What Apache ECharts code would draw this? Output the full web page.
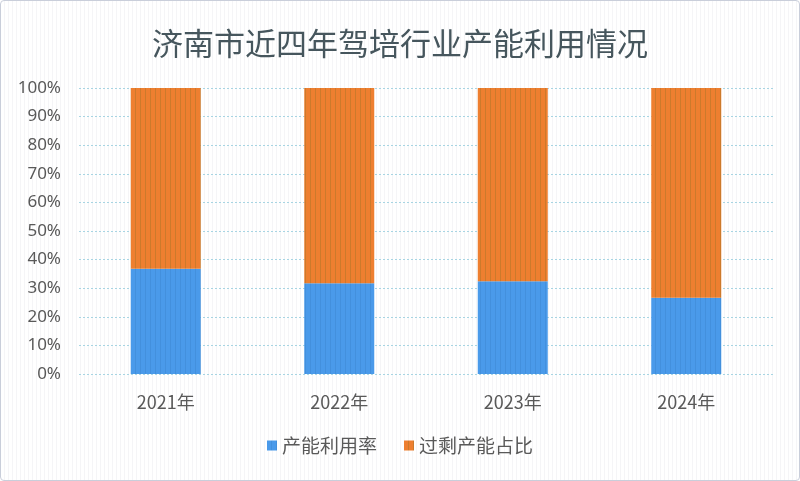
<!DOCTYPE html>
<html>
<head>
<meta charset="utf-8">
<script src="https://cdn.jsdelivr.net/npm/echarts@6/dist/echarts.min.js"></script>
<style>
    html, body { margin: 0; padding: 0; }
    #main {
        width: 800px; height: 481px; box-sizing: border-box;
        border: 1px solid #c9ceda; border-radius: 4px;
        background: repeating-linear-gradient(90deg, #ffffff 0px, #ffffff 3px, #f5f5f7 3px, #f5f5f7 4px);
    }
</style>
</head>
<body>
<div id="main"></div>
<script>
    var years = ['2021年', '2022年', '2023年', '2024年'];
    var usedRate = [36.8, 31.7, 32.4, 26.7];
    var idleRate = [63.2, 68.3, 67.6, 73.3];

    // 竖条纹填充
    function stripe(base, line) {
        var c = document.createElement('canvas');
        c.width = 5; c.height = 4;
        var ctx = c.getContext('2d');
        ctx.fillStyle = base;
        ctx.fillRect(0, 0, 5, 4);
        ctx.fillStyle = line;
        ctx.fillRect(4, 0, 1, 4);
        return { image: c, repeat: 'repeat' };
    }

    var myChart = echarts.init(document.getElementById('main'));
    var option = {
        title: {
            text: '济南市近四年驾培行业产能利用情况',
            left: 'center',
            top: 22,
            textStyle: { fontSize: 31, fontWeight: 'normal', color: '#46565d', fontFamily: 'Noto Sans CJK SC' }
        },
        legend: {
            bottom: 20,
            itemWidth: 10,
            itemHeight: 10,
            itemGap: 27,
            icon: 'rect',
            textStyle: { fontSize: 19, color: '#595959', fontFamily: 'Noto Sans CJK SC' },
            data: ['产能利用率', '过剩产能占比']
        },
        grid: { left: 78, right: 26, top: 87, bottom: 106 },
        xAxis: {
            type: 'category',
            data: years,
            axisLine: { show: false },
            axisTick: { show: false },
            axisLabel: { fontSize: 18, color: '#595959', margin: 19, fontFamily: 'Noto Sans CJK SC' }
        },
        yAxis: {
            type: 'value',
            min: 0,
            max: 100,
            interval: 10,
            axisLabel: { formatter: '{value}%', fontSize: 17, color: '#595959', margin: 18, fontFamily: 'Noto Sans' },
            splitLine: { lineStyle: { color: '#a8d5e3', type: [2, 2], width: 1 } }
        },
        series: [
            {
                name: '产能利用率',
                type: 'bar',
                stack: 'total',
                barWidth: 70,
                itemStyle: { color: stripe('#4a9aea', '#4390dd') },
                data: usedRate
            },
            {
                name: '过剩产能占比',
                type: 'bar',
                stack: 'total',
                barWidth: 70,
                itemStyle: { color: stripe('#ee7f30', '#cc7a2c') },
                data: idleRate
            }
        ]
    };
    myChart.setOption(option, true);
</script>
</body>
</html>
